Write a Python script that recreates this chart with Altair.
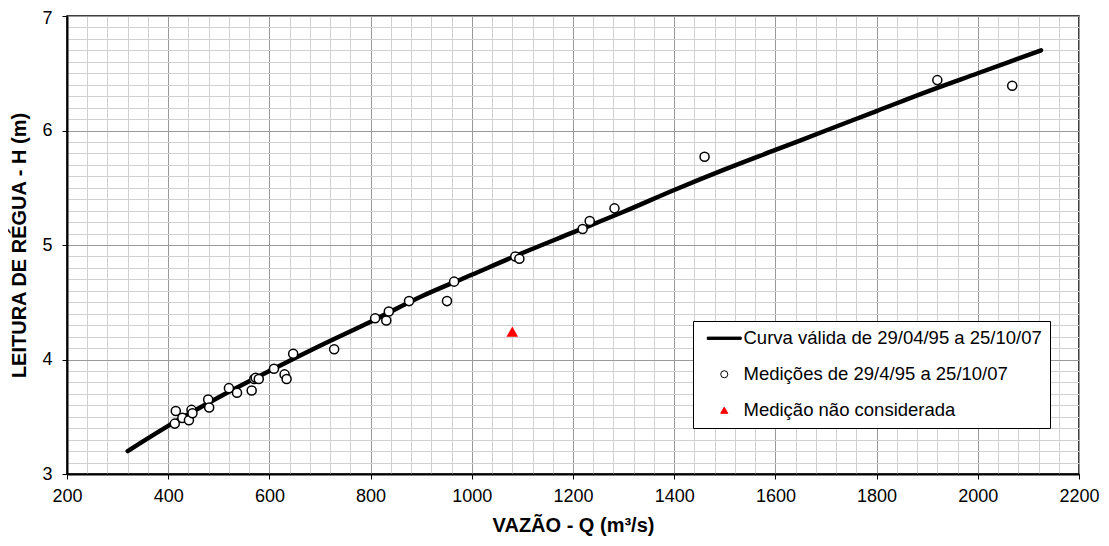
import altair as alt
import pandas as pd

# ---- data ----
curve_q = [320, 400, 500, 600, 700, 800, 900, 1000, 1100, 1200, 1300, 1400,
           1500, 1600, 1700, 1800, 1900, 2000, 2125]
curve_h = [3.20, 3.42, 3.67, 3.90, 4.12, 4.33, 4.55, 4.74, 4.93, 5.11, 5.29, 5.48,
           5.66, 5.83, 6.00, 6.17, 6.34, 6.50, 6.70]

med_q = [415, 413, 428, 441, 446, 448, 479, 481, 520, 536, 565, 570, 573, 579,
         609, 630, 634, 647, 728, 809, 831, 836, 876, 951, 965, 1086, 1094,
         1219, 1233, 1282, 1460, 1920, 2068]
med_h = [3.55, 3.44, 3.49, 3.47, 3.56, 3.53, 3.65, 3.58, 3.75, 3.71, 3.73, 3.83, 3.84, 3.83,
         3.92, 3.87, 3.83, 4.05, 4.09, 4.36, 4.34, 4.42, 4.51, 4.51, 4.68, 4.90, 4.88,
         5.14, 5.21, 5.32, 5.77, 6.44, 6.39]

excl_q = [1080]
excl_h = [4.24]

x_labels = [200, 400, 600, 800, 1000, 1200, 1400, 1600, 1800, 2000, 2200]
y_labels = [3, 4, 5, 6, 7]
x_minor_step = 40
y_minor_step = 0.1

S1 = "Curva válida de 29/04/95 a 25/10/07"
S2 = "Medições de 29/4/95 a 25/10/07"
S3 = "Medição não considerada"
series = [S1, S2, S3]

curve_df = pd.DataFrame({"Q": curve_q, "H": curve_h, "serie": S1})
pts_df = pd.DataFrame({
    "Q": med_q + excl_q,
    "H": med_h + excl_h,
    "serie": [S2] * len(med_q) + [S3] * len(excl_q),
})

x_grid = list(range(x_labels[0], x_labels[-1] + 1, x_minor_step))
n_y = int(round((y_labels[-1] - y_labels[0]) / y_minor_step))
y_grid = [round(y_labels[0] + i * y_minor_step, 1) for i in range(n_y + 1)]

FONT = "Liberation Sans"
x_major_test = "datum.value % 200 === 0"
y_major_test = "abs(datum.value - round(datum.value)) < 0.001"
y_top_test = f"datum.value >= {y_labels[-1]} - 0.001"

x_axis = alt.Axis(
    title="VAZÃO - Q (m³/s)",
    values=x_grid,
    format="d",
    labelExpr=f"{x_major_test} ? datum.label : ''",
    labelOverlap=False,
    labelFlush=False,
    labelPadding=8,
    titlePadding=10,
    tickSize=5,
    tickOpacity={"condition": {"test": x_major_test, "value": 1}, "value": 0},
    gridColor={"condition": {"test": x_major_test, "value": "#9a9a9a"}, "value": "#d0d0d0"},
)
y_axis = alt.Axis(
    title="LEITURA DE RÉGUA - H (m)",
    values=y_grid,
    labelExpr=f"{y_major_test} ? format(datum.value, 'd') : ''",
    labelOverlap=False,
    labelPadding=10,
    labelOffset={"condition": {"test": y_top_test, "value": 2}, "value": 0},
    titlePadding=12,
    tickSize=5,
    tickOpacity={"condition": {"test": y_major_test, "value": 1}, "value": 0},
    gridColor={"condition": {"test": y_major_test, "value": "#9a9a9a"}, "value": "#d0d0d0"},
)

xs = alt.Scale(domain=[x_labels[0], x_labels[-1]], nice=False, zero=False)
ys = alt.Scale(domain=[y_labels[0], y_labels[-1]], nice=False, zero=False)

line = alt.Chart(curve_df).mark_line(
    strokeWidth=4.5, strokeCap="round", interpolate="monotone"
).encode(
    x=alt.X("Q:Q", scale=xs, axis=x_axis),
    y=alt.Y("H:Q", scale=ys, axis=y_axis),
    stroke=alt.value("black"),
)

legend = alt.Legend(
    orient="none",
    legendX=626,
    legendY=305,
    title=None,
    fillColor="white",
    strokeColor="black",
    padding=8,
    labelFont=FONT,
    labelFontSize=18.5,
    labelColor="black",
    labelLimit=500,
    symbolSize=50,
    symbolStrokeWidth=1,
    symbolOffset=14,
    labelOffset=10,
    rowPadding=17,
)

points = alt.Chart(pts_df).mark_point(filled=True, size=82, strokeWidth=1.5, opacity=1).encode(
    x=alt.X("Q:Q", scale=xs, axis=x_axis),
    y=alt.Y("H:Q", scale=ys, axis=y_axis),
    shape=alt.Shape("serie:N", scale=alt.Scale(
        domain=series, range=["M-4.8,-0.33H4.8V0.33H-4.8Z", "circle", "triangle-up"]),
        legend=legend),
    fill=alt.Fill("serie:N", scale=alt.Scale(domain=series, range=["black", "white", "red"]),
                  legend=legend),
    stroke=alt.Stroke("serie:N", scale=alt.Scale(domain=series, range=["black", "black", "red"]),
                      legend=legend),
)

chart = alt.layer(line, points).properties(
    width=1012,
    height=458,
    autosize=alt.AutoSizeParams(type="none"),
    padding={"left": 59, "top": 8, "right": 22, "bottom": 64},
).configure_view(
    stroke="black", strokeWidth=1.5
).configure_axis(
    labelFont=FONT, labelFontSize=18, labelColor="black",
    titleFont=FONT, titleFontSize=20, titleFontWeight="bold", titleColor="black",
    domainColor="black", domainWidth=2, tickColor="black", tickWidth=1,
    gridWidth=1, gridOpacity=1, labelOverlap=False,
)

chart.save("out.html", embed_options={"renderer": "svg", "actions": False})
